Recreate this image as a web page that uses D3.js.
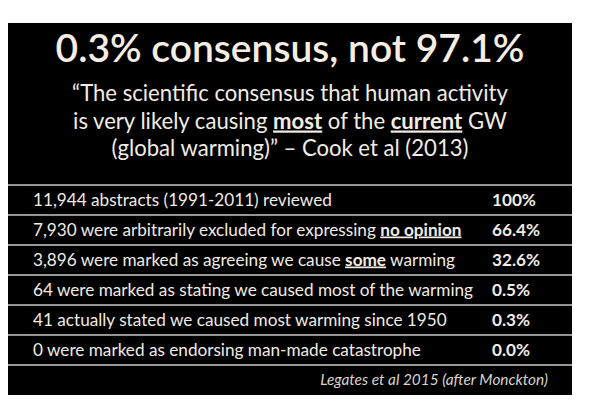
<!DOCTYPE html>
<html><head><meta charset="utf-8">
<script src="https://cdn.jsdelivr.net/npm/d3@7"></script>
<style>
html,body{margin:0;padding:0;background:#fff;}
svg{display:block;}
</style></head>
<body>
<script>
const titleText = "0.3% consensus, not 97.1%";
const quoteLines = [
  [{t:"\u201CThe scientific consensus that human activity"}],
  [{t:"is very likely causing "},{t:"most",b:true},{t:" of the "},{t:"current",b:true},{t:" GW"}],
  [{t:"(global warming)\u201D \u2013 Cook et al (2013)"}]
];
const rowLabels = [
  [{t:"11,944 abstracts (1991-2011) reviewed"}],
  [{t:"7,930 were arbitrarily excluded for expressing "},{t:"no opinion",b:true}],
  [{t:"3,896 were marked as agreeing we cause "},{t:"some",b:true},{t:" warming"}],
  [{t:"64 were marked as stating we caused most of the warming"}],
  [{t:"41 actually stated we caused most warming since 1950"}],
  [{t:"0 were marked as endorsing man-made catastrophe"}]
];
const rowPercents = ["100%","66.4%","32.6%","0.5%","0.3%","0.0%"];
const sourceText = "Legates et al 2015 (after Monckton)";

const W = 600, H = 414;
const FONT = "Lato, 'Open Sans', sans-serif";
const svg = d3.select("body").append("svg").attr("width", W).attr("height", H);

const box = {x0: 8, x1: 572, y0: 23, y1: 395};
svg.append("rect").attr("x", box.x0).attr("y", box.y0)
  .attr("width", box.x1 - box.x0).attr("height", box.y1 - box.y0).attr("fill", "#000");

function fit(sel, target) {
  const w = sel.node().getComputedTextLength();
  const fs = parseFloat(sel.attr("font-size"));
  return fs * target / w;
}

// Title
const title = svg.append("text").attr("x", 290).attr("y", 62)
  .attr("text-anchor", "middle").attr("font-family", FONT).attr("font-size", 34)
  .attr("font-weight", 600).attr("fill", "#f6ede3").text(titleText);
title.attr("font-size", fit(title, 469));

// Quote lines
const qY = d3.scaleLinear().domain([0, 2]).range([101, 156]);
function addParts(textSel, parts) {
  textSel.selectAll("tspan").data(parts).join("tspan")
    .attr("font-weight", d => d.b ? 700 : 400)
    .style("text-decoration", d => d.b ? "underline" : null)
    .text(d => d.t);
}
const quotes = svg.append("g").selectAll("text").data(quoteLines).join("text")
  .attr("x", 290).attr("y", (d, i) => qY(i)).attr("text-anchor", "middle")
  .attr("font-family", FONT).attr("font-size", 20).attr("fill", "#f3ece3")
  .each(function(d) { addParts(d3.select(this), d); });
const qfs = fit(d3.select(quotes.nodes()[0]), 436);
quotes.attr("font-size", qfs);

// Table rows
const yRow = d3.scaleBand().domain(d3.range(rowLabels.length + 1)).range([185, 395]).padding(0);
const lineYs = d3.range(rowLabels.length + 1).map(i => yRow(i));
svg.append("g").selectAll("line").data(lineYs).join("line")
  .attr("x1", box.x0).attr("x2", box.x1).attr("y1", d => d).attr("y2", d => d)
  .attr("stroke", "#c9c6c0").attr("stroke-width", 1.6);

const rows = svg.append("g").selectAll("text").data(rowLabels).join("text")
  .attr("x", 33).attr("y", (d, i) => yRow(i) + yRow.bandwidth() / 2 + 5.5)
  .attr("font-family", FONT).attr("font-size", 16).attr("fill", "#f1ebe2")
  .each(function(d) { addParts(d3.select(this), d); });
const rfs = fit(d3.select(rows.nodes()[1]), 429);
rows.attr("font-size", rfs);

svg.append("g").selectAll("text").data(rowPercents).join("text")
  .attr("x", 492).attr("y", (d, i) => yRow(i) + yRow.bandwidth() / 2 + 5.5)
  .attr("font-family", FONT).attr("font-size", rfs).attr("font-weight", 700)
  .attr("fill", "#f1ebe2").text(d => d);

// Source
const src = svg.append("text").attr("x", 548).attr("y", yRow(rowLabels.length) + yRow.bandwidth() / 2 + 5)
  .attr("text-anchor", "end").attr("font-family", FONT).attr("font-size", 14)
  .attr("font-style", "italic").attr("fill", "#d8d3cc").text(sourceText);
src.attr("font-size", fit(src, 228));
</script>
</body></html>
